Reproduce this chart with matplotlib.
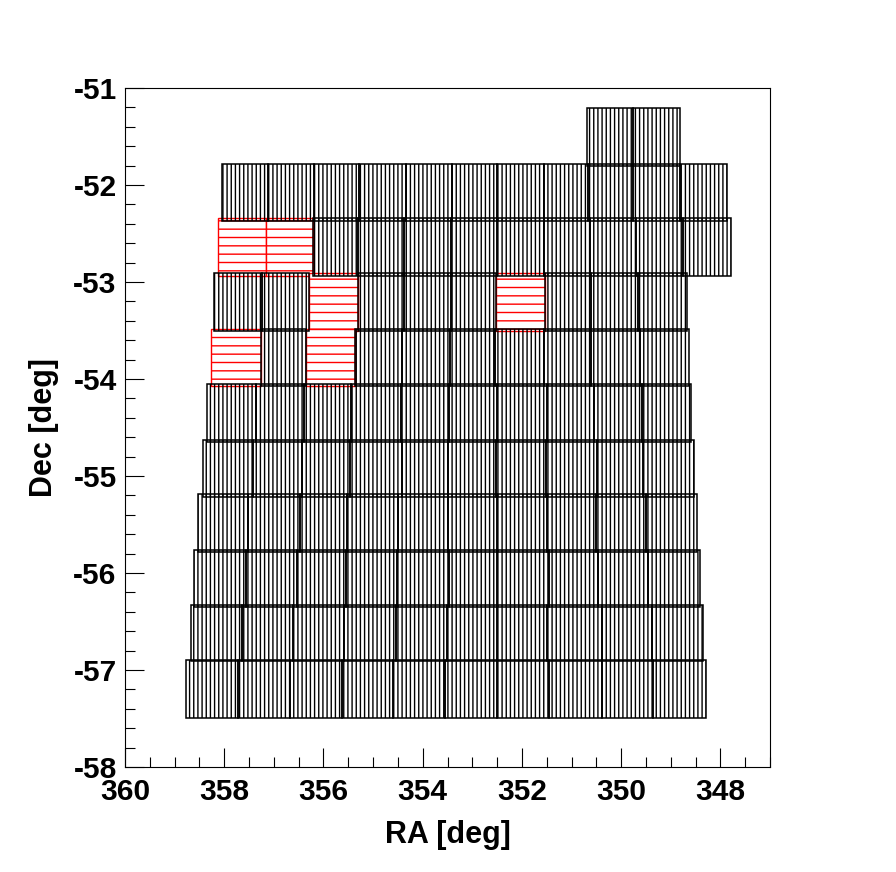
import matplotlib
matplotlib.use("Agg")
import matplotlib.pyplot as plt
from matplotlib.patches import Rectangle
from matplotlib.ticker import MultipleLocator

plt.rcParams['font.family'] = ['Liberation Sans', 'DejaVu Sans']
plt.rcParams['axes.unicode_minus'] = False
plt.rcParams['hatch.linewidth'] = 1.0

# Dec range (top, bottom) of each row of fields, in degrees
row_dec_top = [-51.21, -51.78, -52.345, -52.91, -53.48, -54.047, -54.625, -55.19, -55.76, -56.33, -56.896]
row_dec_bottom = [-51.80, -52.37, -52.937, -53.504, -54.075, -54.65, -55.22, -55.78, -56.346, -56.91, -57.49]

# RA boundaries of the fields in each row (degrees, decreasing)
ra_edges_row1 = [350.69, 349.76, 348.81]
ra_edges_row2 = [358.04, 357.12, 356.19, 355.28, 354.34, 353.41, 352.50, 351.55, 350.67, 349.76, 348.81, 347.86]
ra_edges_row3 = [358.13, 357.16, 356.21, 355.30, 354.38, 353.43, 352.50, 351.55, 350.63, 349.70, 348.75, 347.78]
ra_edges_row4 = [358.21, 357.24, 356.29, 355.30, 354.38, 353.43, 352.52, 351.53, 350.60, 349.66, 348.67]
ra_edges_row5 = [358.27, 357.26, 356.35, 355.36, 354.42, 353.45, 352.54, 351.55, 350.60, 349.62, 348.63]
ra_edges_row6 = [358.35, 357.36, 356.39, 355.44, 354.44, 353.47, 352.50, 351.49, 350.54, 349.58, 348.59]
ra_edges_row7 = [358.43, 357.42, 356.43, 355.46, 354.42, 353.49, 352.52, 351.51, 350.48, 349.56, 348.53]
ra_edges_row8 = [358.53, 357.52, 356.47, 355.52, 354.50, 353.49, 352.50, 351.49, 350.50, 349.50, 348.47]
ra_edges_row9 = [358.61, 357.56, 356.53, 355.54, 354.52, 353.47, 352.50, 351.45, 350.46, 349.46, 348.41]
ra_edges_row10 = [358.67, 357.64, 356.61, 355.58, 354.54, 353.51, 352.50, 351.49, 350.38, 349.38, 348.35]
ra_edges_row11 = [358.77, 357.72, 356.67, 355.63, 354.60, 353.55, 352.50, 351.45, 350.38, 349.35, 348.29]

ra_edges = [ra_edges_row1, ra_edges_row2, ra_edges_row3, ra_edges_row4, ra_edges_row5,
            ra_edges_row6, ra_edges_row7, ra_edges_row8, ra_edges_row9, ra_edges_row10,
            ra_edges_row11]

# fields drawn with the red horizontal pattern: (row index, field index)
red_fields = [(2, 0), (2, 1), (3, 2), (3, 6), (4, 0), (4, 2)]

x_ticks_major = [360, 358, 356, 354, 352, 350, 348]
y_ticks_major = [-58, -57, -56, -55, -54, -53, -52, -51]

fig = plt.figure(figsize=(8.96, 8.72), dpi=100)
ax = fig.add_axes([0.1395, 0.1204, 0.7199, 0.7787])

# red fields first (white face), then the black vertical-hatch fields
for (r, i) in red_fields:
    edges = ra_edges[r]
    x0, x1 = edges[i + 1], edges[i]
    y0, y1 = row_dec_bottom[r], row_dec_top[r]
    ax.add_patch(Rectangle((x0, y0), x1 - x0, y1 - y0, facecolor='white',
                           edgecolor='#ff0000', hatch='--', linewidth=1.0, zorder=2))

for r, edges in enumerate(ra_edges):
    for i in range(len(edges) - 1):
        if (r, i) in red_fields:
            continue
        x0, x1 = edges[i + 1], edges[i]
        y0, y1 = row_dec_bottom[r], row_dec_top[r]
        ax.add_patch(Rectangle((x0, y0), x1 - x0, y1 - y0, facecolor='none',
                               edgecolor='black', hatch='||||', linewidth=1.1, zorder=3))

ax.set_xlim(360, 347)
ax.set_ylim(-58, -51)

ax.set_xticks(x_ticks_major)
ax.set_yticks(y_ticks_major)
ax.xaxis.set_minor_locator(MultipleLocator(0.5))
ax.yaxis.set_minor_locator(MultipleLocator(0.2))
ax.tick_params(which='both', direction='in', top=False, right=False, width=0.8,
               labelsize=21.5)
ax.tick_params(which='major', length=13.7)
ax.tick_params(which='minor', length=7)
ax.tick_params(axis='x', pad=8)
ax.tick_params(axis='y', pad=6)
for lab in ax.get_xticklabels() + ax.get_yticklabels():
    lab.set_fontweight('bold')

for s in ax.spines.values():
    s.set_linewidth(0.8)

ax.set_xlabel('RA [deg]', fontsize=22, fontweight='bold', labelpad=10)
ax.set_ylabel('Dec [deg]', fontsize=22, fontweight='bold', labelpad=10)

fig.savefig('out.png', dpi=100)
